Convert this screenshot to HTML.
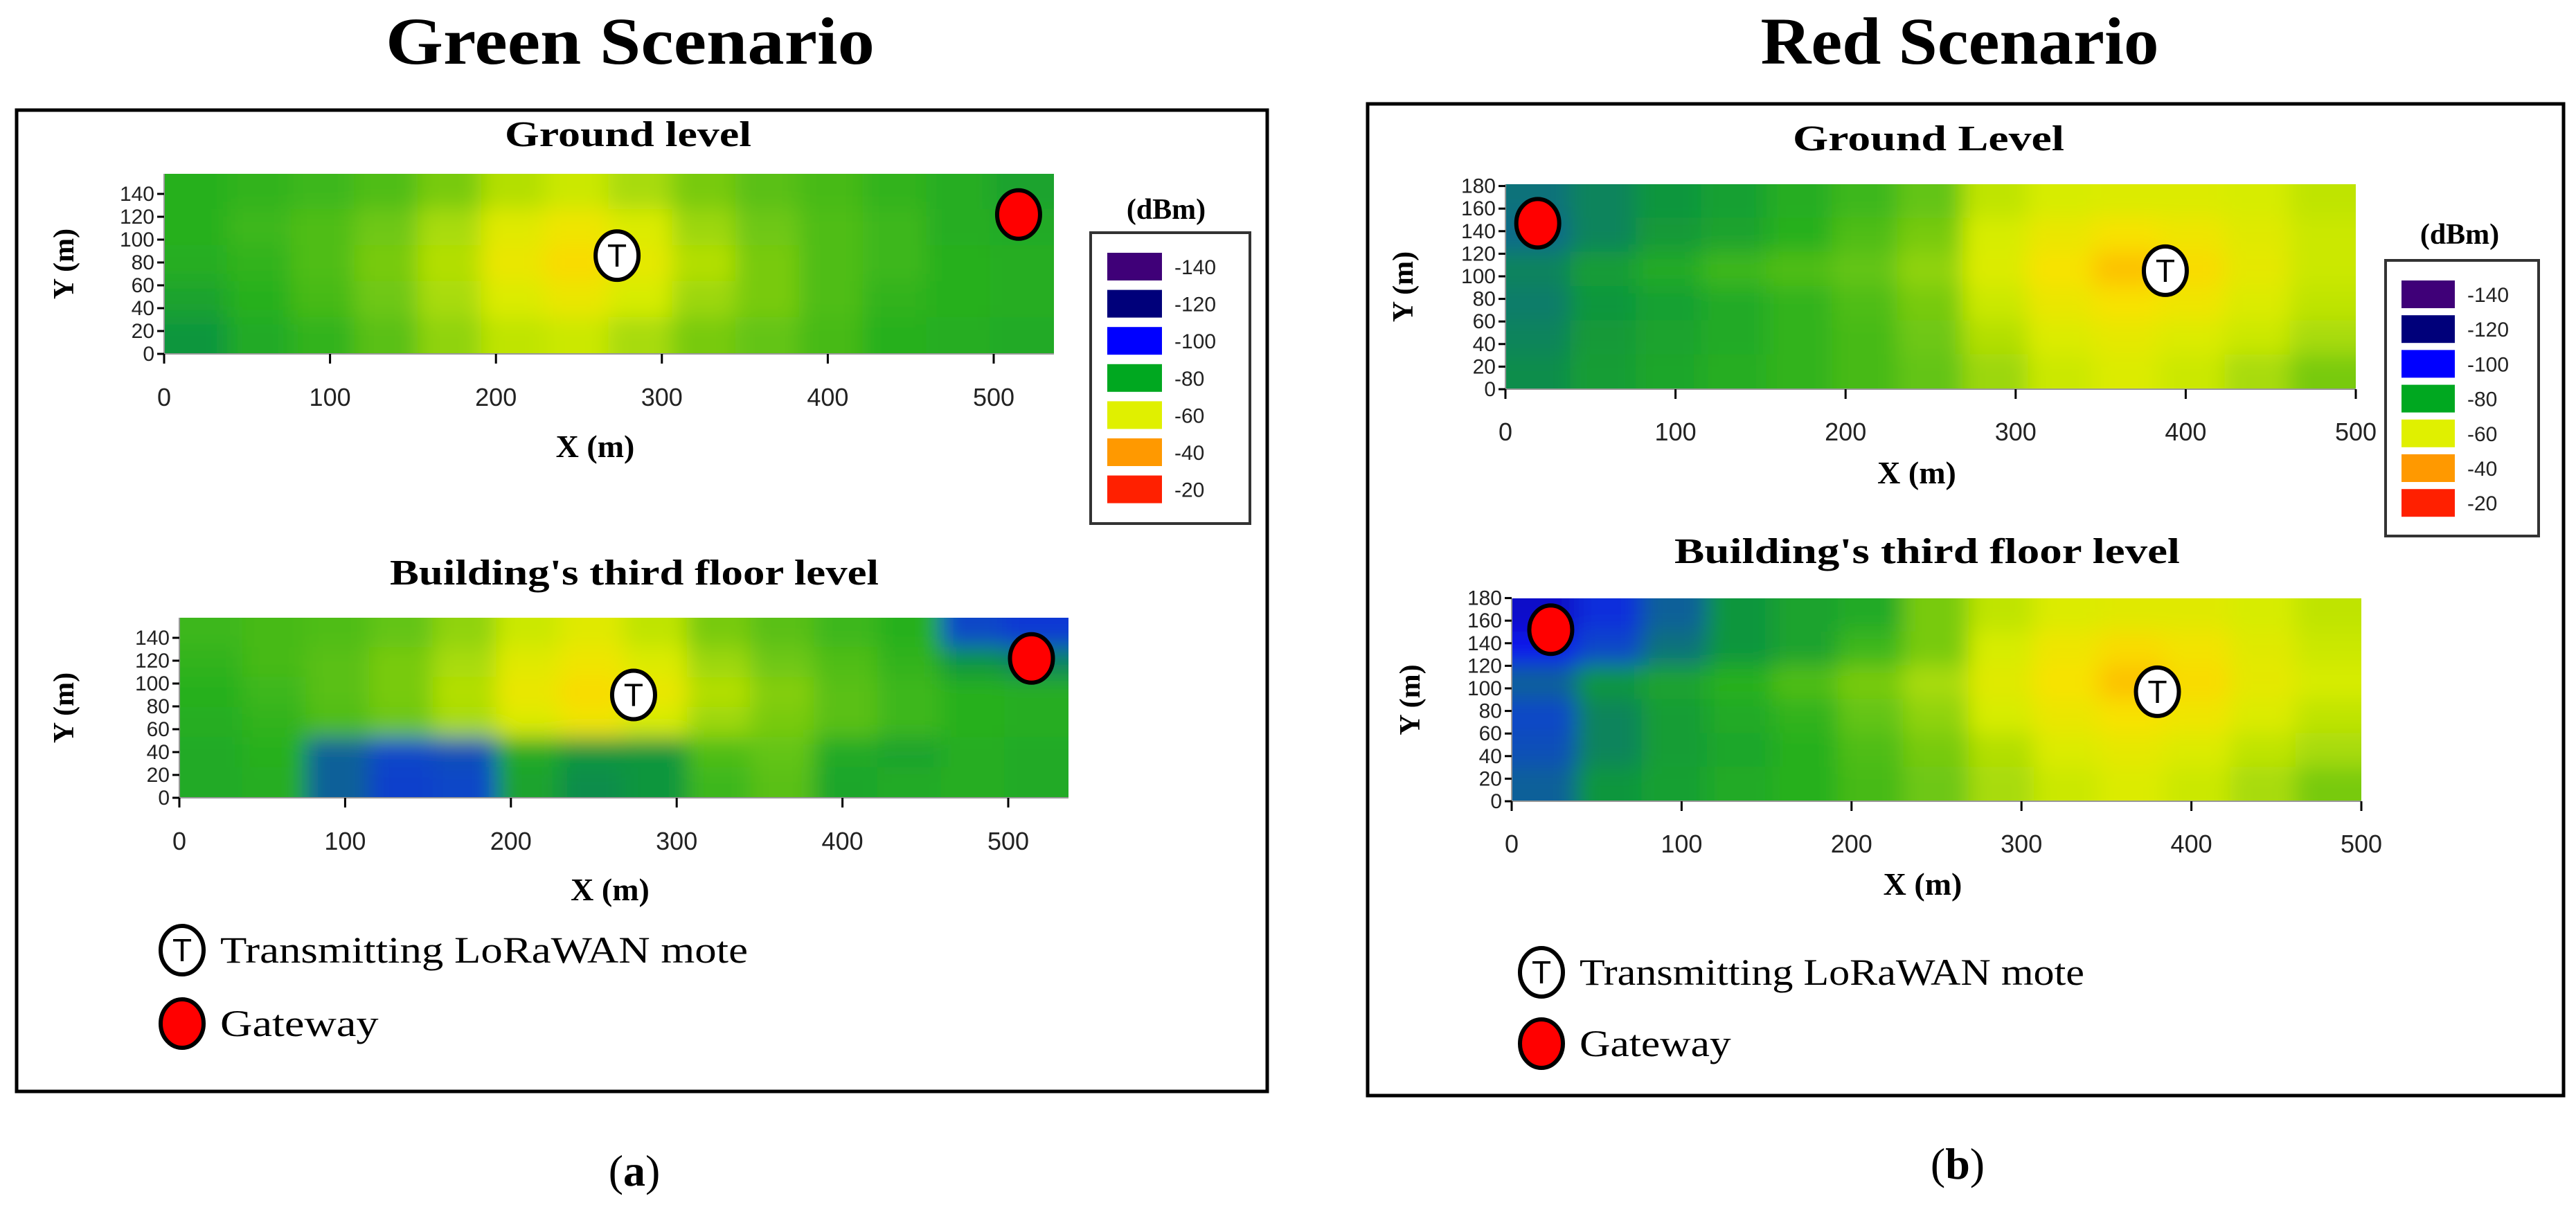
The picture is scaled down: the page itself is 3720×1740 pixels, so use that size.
<!DOCTYPE html>
<html><head><meta charset="utf-8"><style>
html,body{margin:0;padding:0;background:#fff;}
svg{display:block;}
.ser{font-family:"Liberation Serif",serif;}
.san{font-family:"Liberation Sans",sans-serif;}
</style></head><body>
<svg id="fig" width="3720" height="1740" viewBox="0 0 3720 1740" xmlns="http://www.w3.org/2000/svg">
<defs>
<filter id="blur" x="-20%" y="-30%" width="140%" height="160%"><feGaussianBlur stdDeviation="16"/></filter>
</defs>
<text class="ser" x="910" y="92" font-size="96" font-weight="bold" text-anchor="middle" textLength="706" lengthAdjust="spacingAndGlyphs">Green Scenario</text>
<text class="ser" x="2830" y="92" font-size="96" font-weight="bold" text-anchor="middle" textLength="575" lengthAdjust="spacingAndGlyphs">Red Scenario</text>
<rect x="24" y="159" width="1806" height="1417" fill="none" stroke="#000" stroke-width="5"/>
<rect x="1975" y="150" width="1727" height="1432" fill="none" stroke="#000" stroke-width="5"/>
<g id="maps"></g>
<text class="ser" x="916" y="1712" font-size="64" text-anchor="middle">(<tspan font-weight="bold">a</tspan>)</text>
<text class="ser" x="2827" y="1702" font-size="64" text-anchor="middle">(<tspan font-weight="bold">b</tspan>)</text>
</svg>
<script>
const greenGround = [
[-78,-77,-76,-74,-70,-65,-63,-66,-70,-73,-75,-77,-79,-82],
[-78,-76,-74,-71,-66,-60,-57,-61,-67,-71,-74,-76,-79,-80],
[-79,-77,-74,-70,-65,-58,-54,-59,-65,-70,-74,-76,-78,-79],
[-82,-78,-75,-71,-66,-61,-58,-62,-67,-70,-74,-77,-78,-79],
[-86,-80,-77,-73,-68,-64,-63,-66,-70,-72,-75,-78,-79,-80]];
const greenThird = [
[-76,-75,-74,-72,-68,-63,-60,-64,-70,-73,-76,-78,-95,-98],
[-77,-75,-73,-70,-66,-60,-57,-61,-67,-71,-74,-77,-86,-88],
[-78,-76,-73,-70,-65,-58,-54,-58,-65,-69,-73,-76,-78,-79],
[-79,-77,-74,-71,-66,-61,-57,-62,-67,-70,-73,-76,-78,-79],
[-80,-78,-92,-95,-94,-80,-86,-86,-74,-72,-80,-82,-79,-80],
[-80,-79,-92,-96,-95,-82,-87,-86,-76,-73,-81,-80,-79,-80]];
const redGround = [
[-90,-88,-86,-83,-79,-76,-72,-64,-62,-61,-61,-62,-64],
[-91,-88,-85,-82,-78,-74,-70,-62,-58,-55,-57,-60,-63],
[-88,-84,-80,-76,-74,-72,-68,-61,-55,-50,-54,-59,-63],
[-89,-86,-83,-80,-77,-74,-70,-63,-58,-55,-57,-61,-64],
[-88,-85,-82,-80,-77,-75,-71,-65,-61,-59,-61,-63,-66],
[-87,-84,-81,-79,-77,-75,-72,-67,-63,-61,-63,-66,-70]];
const redThird = [
[-110,-100,-92,-86,-82,-80,-70,-64,-61,-60,-60,-62,-64],
[-104,-95,-90,-86,-82,-76,-70,-62,-57,-54,-56,-60,-63],
[-92,-86,-82,-78,-74,-70,-66,-60,-55,-50,-54,-59,-62],
[-95,-88,-84,-80,-77,-72,-68,-62,-58,-55,-57,-61,-64],
[-94,-88,-84,-81,-78,-74,-70,-65,-61,-59,-61,-64,-66],
[-92,-86,-83,-80,-78,-75,-71,-66,-63,-61,-63,-66,-70]];
const legendLevels = [-140,-120,-100,-80,-60,-40,-20];
const legendColors = ["#3f0078","#00007a","#0000ff","#00a820","#e0f000","#ff9900","#ff2000"];
const xTicks = [0,100,200,300,400,500];
const yTicksGreen = [0,20,40,60,80,100,120,140];
const yTicksRed = [0,20,40,60,80,100,120,140,160,180];
const greenGroundT = [273,86], greenGroundG = [515,122];
const greenThirdT = [274,90], greenThirdG = [514,122];
const redGroundT = [388,105], redGroundG = [19,147];
const redThirdT = [380,97], redThirdG = [23,152];

const NS="http://www.w3.org/2000/svg";
const root=document.getElementById('maps');
function el(tag,attrs,parent,text){const e=document.createElementNS(NS,tag);for(const k in attrs)e.setAttribute(k,attrs[k]);if(text!==undefined)e.textContent=text;(parent||root).appendChild(e);return e;}
const stops=[[-140,[63,0,120]],[-120,[0,0,122]],[-105,[10,20,240]],[-95,[16,70,200]],[-86,[16,150,60]],[-78,[40,176,30]],[-70,[120,202,16]],[-62,[215,236,0]],[-55,[248,226,0]],[-48,[255,180,0]],[-40,[255,144,0]],[-20,[255,32,0]]];
function col(v){if(v<=stops[0][0])return 'rgb('+stops[0][1]+')';for(let i=1;i<stops.length;i++){if(v<=stops[i][0]){const a=stops[i-1],b=stops[i],t=(v-a[0])/(b[0]-a[0]);const c=a[1].map((x,j)=>Math.round(x+(b[1][j]-x)*t));return 'rgb('+c.join(',')+')';}}return 'rgb('+stops[stops.length-1][1]+')';}
let clipId=0;
function drawMap(o){
  const sx=m=>o.x0+m*o.pxPerM, sy=m=>o.yb-m*o.pyPerM;
  const w=o.x1-o.x0,h=o.yb-o.yt;
  clipId++;
  const cp=el('clipPath',{id:'cp'+clipId});el('rect',{x:o.x0,y:o.yt,width:w,height:h},cp);
  const g=el('g',{'clip-path':'url(#cp'+clipId+')'});
  
  
  const gb=el('g',{filter:'url(#blur)'},g);
  const rows=o.data.length,cols=o.data[0].length,cw=w/cols,ch=h/rows,P=60;
  o.data.forEach((r,i)=>r.forEach((v,j)=>{
    let x=o.x0+j*cw-1,y=o.yt+i*ch-1,ww=cw+2,hh=ch+2;
    if(j===0){x-=P;ww+=P;} if(j===cols-1){ww+=P;}
    if(i===0){y-=P;hh+=P;} if(i===rows-1){hh+=P;}
    const c=el('rect',{x:x,y:y,width:ww,height:hh,fill:col(v)},gb);
    
    
  }));
  el('line',{x1:o.x0,y1:o.yb,x2:o.x1,y2:o.yb,stroke:'#999','stroke-width':2});
  el('line',{x1:o.x0,y1:o.yt,x2:o.x0,y2:o.yb,stroke:'#999','stroke-width':2});
  xTicks.forEach(t=>{el('line',{x1:sx(t),y1:o.yb,x2:sx(t),y2:o.yb+14,stroke:'#000','stroke-width':3});
    const tl=el('text',{x:sx(t),y:o.xlabY,'font-size':36,'text-anchor':'middle',class:'san',fill:'#222'},root,String(t));
    
    });
  o.yTicks.forEach(t=>{el('line',{x1:o.x0-10,y1:sy(t),x2:o.x0,y2:sy(t),stroke:'#000','stroke-width':3});
    const tl=el('text',{x:o.x0-14,y:sy(t)+10,'font-size':30,'text-anchor':'end',class:'san',fill:'#222'},root,String(t));
    
    });
  const xt=el('text',{x:(o.x0+o.x1)/2-20,y:o.xTitleY,'font-size':46,'font-weight':'bold','text-anchor':'middle',class:'ser'},root,'X (m)');
  
  
  const yt=el('text',{x:0,y:0,'font-size':42,'font-weight':'bold','text-anchor':'middle',class:'ser',transform:'translate('+o.yTitleX+','+((o.yt+o.yb)/2)+') rotate(-90)'},root,'Y (m)');
  
  
  const tt=el('text',{x:o.titleX,y:o.titleY,'font-size':52,'font-weight':'bold','text-anchor':'middle',class:'ser',textLength:o.titleW,lengthAdjust:'spacingAndGlyphs'},root,o.title);
  
  
  gateway(sx(o.G[0]),sy(o.G[1]),o.name+'-gateway-marker');
  mote(sx(o.T[0]),sy(o.T[1]),o.name+'-mote-marker');
}
function gateway(x,y,name){const c=el('ellipse',{cx:x,cy:y,rx:31,ry:35,fill:'#ff0000',stroke:'#000','stroke-width':6});
  
  }
function mote(x,y,name){const g=el('g',{});
  
  
  el('ellipse',{cx:x,cy:y,rx:31,ry:35,fill:'#fff',stroke:'#000','stroke-width':6},g);
  el('text',{x:x,y:y+16,'font-size':46,'text-anchor':'middle',class:'san'},g,'T');}
function colorLegend(bx,by,bw,bh,titleX,titleY,swX,swW,row0,pitch,name){
  const g=el('g',{});
  
  
  el('text',{x:titleX,y:titleY,'font-size':42,'font-weight':'bold','text-anchor':'middle',class:'ser'},g,'(dBm)');
  el('rect',{x:bx,y:by,width:bw,height:bh,fill:'#fff',stroke:'#333','stroke-width':4},g);
  legendLevels.forEach((lv,i)=>{
    const r=el('rect',{x:swX,y:row0+i*pitch-20,width:swW,height:40,fill:legendColors[i]},g);
    
    
    el('text',{x:swX+swW+18,y:row0+i*pitch+11,'font-size':30,class:'san',fill:'#222'},g,String(lv));});
}
function markerLegend(x,y1,y2,tw,name){
  const g=el('g',{});
  
  
  mote(x,y1,'legend-mote-icon');
  el('text',{x:x+55,y:y1+18,'font-size':54,class:'ser',textLength:tw,lengthAdjust:'spacingAndGlyphs'},g,'Transmitting LoRaWAN mote');
  gateway(x,y2,'legend-gateway-icon');
  el('text',{x:x+55,y:y2+18,'font-size':54,class:'ser',textLength:tw*0.3,lengthAdjust:'spacingAndGlyphs'},g,'Gateway');
}
drawMap({name:'green-ground',data:greenGround,x0:237,x1:1522,yt:251,yb:511,pxPerM:2.396,pyPerM:1.65,yTicks:yTicksGreen,xlabY:586,xTitleY:660,yTitleX:106,title:'Ground level',titleX:907,titleY:211,titleW:356,T:greenGroundT,G:greenGroundG});
drawMap({name:'green-third',data:greenThird,x0:259,x1:1543,yt:892,yb:1152,pxPerM:2.394,pyPerM:1.65,yTicks:yTicksGreen,xlabY:1227,xTitleY:1300,yTitleX:106,title:"Building's third floor level",titleX:916,titleY:844,titleW:706,T:greenThirdT,G:greenThirdG});
drawMap({name:'red-ground',data:redGround,x0:2174,x1:3402,yt:266,yb:562,pxPerM:2.456,pyPerM:1.63,yTicks:yTicksRed,xlabY:636,xTitleY:698,yTitleX:2040,title:'Ground Level',titleX:2785,titleY:217,titleW:392,T:redGroundT,G:redGroundG});
drawMap({name:'red-third',data:redThird,x0:2183,x1:3410,yt:864,yb:1157,pxPerM:2.454,pyPerM:1.63,yTicks:yTicksRed,xlabY:1231,xTitleY:1292,yTitleX:2050,title:"Building's third floor level",titleX:2783,titleY:813,titleW:730,T:redThirdT,G:redThirdG});
colorLegend(1575,336,230,420,1684,316,1599,79,385,53.6,'green-color-legend');
colorLegend(3445,376,221,398,3552,352,3468,77,425,50.2,'red-color-legend');
markerLegend(263,1372,1478,762,'green-marker-legend');
markerLegend(2226,1404,1507,729,'red-marker-legend');
</script>
</body></html>
